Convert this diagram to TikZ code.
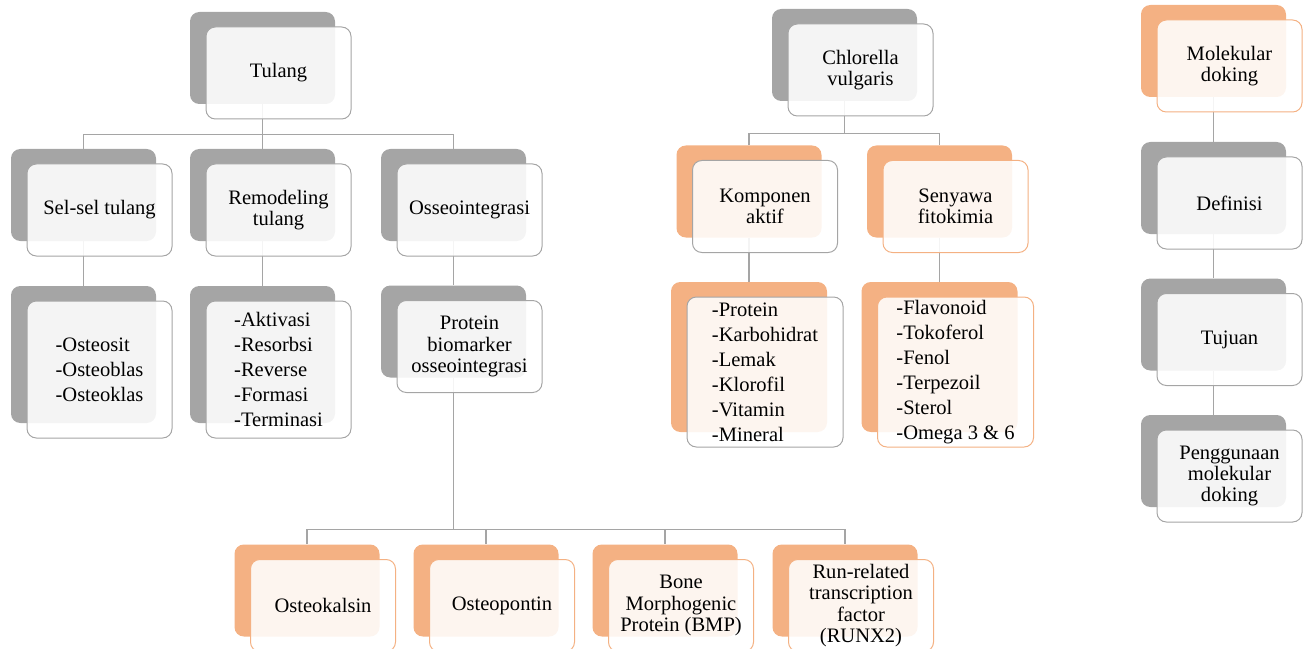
\documentclass[tikz,border=0pt]{standalone}
\usepackage{fontspec}
\setmainfont{Liberation Serif}
\definecolor{boxgray}{RGB}{165,165,165}
\definecolor{boxpeach}{RGB}{244,177,131}
\usetikzlibrary{positioning}

\begin{document}
\begin{tikzpicture}[
  x=0.75pt, y=-0.75pt,
  back/.style={rectangle, rounded corners=7pt, fill=#1, inner sep=0pt,
               minimum width=108.75pt, minimum height=69pt},
  front/.style={rectangle, rounded corners=7pt, draw=#1, line width=0.75pt,
                fill=white, fill opacity=0.88, text opacity=1, inner sep=0pt,
                minimum width=108.75pt, minimum height=69pt, align=center,
                font=\fontsize{15.4}{16}\selectfont, xshift=12pt, yshift=-11.25pt},
  tall/.style={minimum height=102.75pt},
  wide/.style={minimum width=117pt, minimum height=112.5pt},
  list/.style={align=left, font=\fontsize{15.4}{18.75}\selectfont},
  link/.style={draw=boxgray, line width=0.9pt}
]
\useasboundingbox (0,0) rectangle (1310,649);

% back plates
\node[back=boxgray] (tulangB) at (262.5,58) {};
\node[back=boxgray] (selB) at (83.5,195) {};
\node[back=boxgray] (remB) at (262.5,195) {};
\node[back=boxgray] (osseoB) at (453.5,195) {};
\node[back=boxgray, tall] (selListB) at (83.5,354.5) {};
\node[back=boxgray, tall] (remListB) at (262.5,354.5) {};
\node[back=boxgray] (biomB) at (453.5,331.5) {};
\node[back=boxpeach] (kalsinB) at (307,590.5) {};
\node[back=boxpeach] (pontinB) at (486,590.5) {};
\node[back=boxpeach] (bmpB) at (665,590.5) {};
\node[back=boxpeach] (runxB) at (845,590.5) {};
\node[back=boxgray] (chloB) at (844.5,55) {};
\node[back=boxpeach] (kompB) at (749,191.5) {};
\node[back=boxpeach] (senyB) at (939.5,191.5) {};
\node[back=boxpeach, wide] (kompListB) at (749,357) {};
\node[back=boxpeach, wide] (senyListB) at (939.5,357) {};
\node[back=boxpeach] (dokB) at (1213.5,51) {};
\node[back=boxgray] (defB) at (1213.5,188) {};
\node[back=boxgray] (tujB) at (1213.5,324.5) {};
\node[back=boxgray] (gunaB) at (1213.5,461) {};

% connectors
\draw[link] (tulangB.south) -- ++(0,30) coordinate (jTul);
\draw[link] (selB.north) |- (jTul) -| (osseoB.north);
\draw[link] (remB.north) -- (jTul);
\draw[link] (selB.south) -- (selListB.north);
\draw[link] (remB.south) -- (remListB.north);
\draw[link] (osseoB.south) -- (biomB.north);
\draw[link] (biomB.south) -- ++(0,152) coordinate (jBio);
\draw[link] (kalsinB.north) |- (jBio) -| (runxB.north);
\draw[link] (pontinB.north) -- (pontinB.north |- jBio);
\draw[link] (bmpB.north) -- (bmpB.north |- jBio);
\draw[link] (chloB.south) -- ++(0,32) coordinate (jChlo);
\draw[link] (kompB.north) |- (jChlo) -| (senyB.north);
\draw[link] (kompB.south) -- (kompListB.north);
\draw[link] (senyB.south) -- (senyListB.north);
\draw[link] (dokB.south) -- (defB.north);
\draw[link] (defB.south) -- (tujB.north);
\draw[link] (tujB.south) -- (gunaB.north);

% front cards
\node[front=boxgray] (tulang) at (tulangB) {Tulang};
\node[front=boxgray] (sel) at (selB) {Sel-sel tulang};
\node[front=boxgray] (rem) at (remB) {Remodeling\\tulang};
\node[front=boxgray] (osseo) at (osseoB) {Osseointegrasi};
\node[front=boxgray, tall, list] (selList) at (selListB) {-Osteosit\\-Osteoblas\\-Osteoklas};
\node[front=boxgray, tall, list] (remList) at (remListB) {-Aktivasi\\-Resorbsi\\-Reverse\\-Formasi\\-Terminasi};
\node[front=boxgray] (biom) at (biomB) {Protein\\biomarker\\osseointegrasi};
\node[front=boxpeach] (kalsin) at (kalsinB) {Osteokalsin};
\node[front=boxpeach] (pontin) at (pontinB) {Osteopontin};
\node[front=boxpeach] (bmp) at (bmpB) {Bone\\Morphogenic\\Protein (BMP)};
\node[front=boxpeach] (runx) at (runxB) {Run-related\\transcription\\factor\\(RUNX2)};
\node[front=boxgray] (chlo) at (chloB) {Chlorella\\vulgaris};
\node[front=boxgray] (komp) at (kompB) {Komponen\\aktif};
\node[front=boxpeach] (seny) at (senyB) {Senyawa\\fitokimia};
\node[front=boxgray, wide, list] (kompList) at (kompListB) {-Protein\\-Karbohidrat\\-Lemak\\-Klorofil\\-Vitamin\\-Mineral};
\node[front=boxpeach, wide, list] (senyList) at (senyListB) {-Flavonoid\\-Tokoferol\\-Fenol\\-Terpezoil\\-Sterol\\-Omega 3 \& 6};
\node[front=boxpeach] (dok) at (dokB) {Molekular\\doking};
\node[front=boxgray] (def) at (defB) {Definisi};
\node[front=boxgray] (tuj) at (tujB) {Tujuan};
\node[front=boxgray] (guna) at (gunaB) {Penggunaan\\molekular\\doking};
\end{tikzpicture}
\end{document}
